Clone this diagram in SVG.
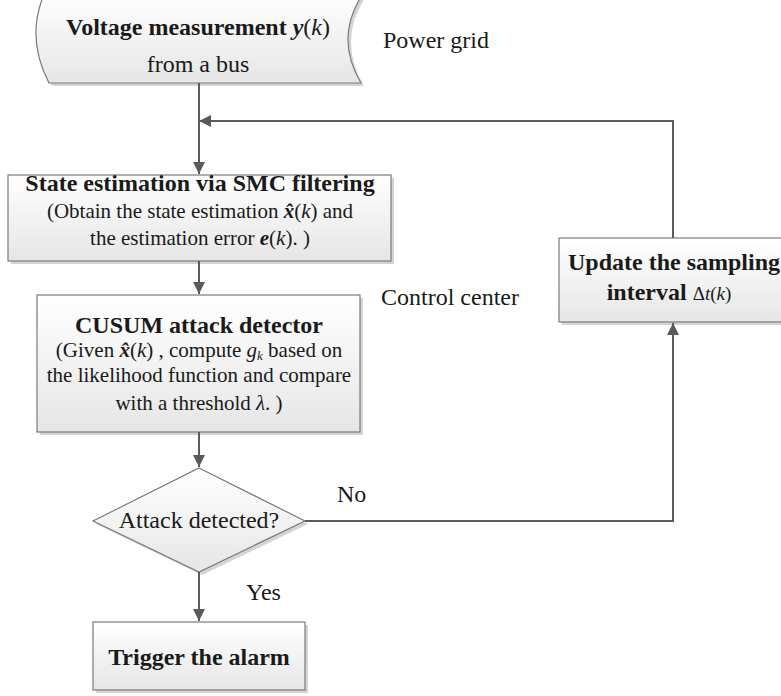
<svg xmlns="http://www.w3.org/2000/svg" width="781" height="696" viewBox="0 0 781 696" font-family="'Liberation Serif', serif">
<defs>
<linearGradient id="g" x1="0" y1="0" x2="0" y2="1">
<stop offset="0" stop-color="#ffffff"/>
<stop offset="1" stop-color="#e6e6e6"/>
</linearGradient>
<marker id="a" markerUnits="userSpaceOnUse" markerWidth="12" markerHeight="12" refX="12" refY="6" orient="auto">
<path d="M0,0 L12,6 L0,12 z" fill="#5a5a5a"/>
</marker>
</defs>
<rect width="781" height="696" fill="#ffffff"/>

<g id="voltage">
<path fill="#d4d4d4" d="M48,-5 L367,-5 Q336.5,39 364,86 L52,86 Q28,39 48,-5 Z"/>
<path fill="url(#g)" stroke="#7a7a7a" stroke-width="1.2" d="M45,-8 L364,-8 Q333.5,37 361,83 L49,83 Q25,37 45,-8 Z"/>
<text x="198" y="35" text-anchor="middle" font-family="'Liberation Serif', serif" font-size="24" font-weight="bold" fill="#1a1a1a">Voltage measurement  <tspan font-style="italic">y</tspan><tspan font-weight="normal">(</tspan><tspan font-style="italic" font-weight="normal">k</tspan><tspan font-weight="normal">)</tspan></text>
<text x="198" y="72" text-anchor="middle" font-family="'Liberation Serif', serif" font-size="24" fill="#1a1a1a">from a bus</text>
</g>

<g id="powergrid">
<text x="383" y="48" font-family="'Liberation Serif', serif" font-size="24" fill="#1a1a1a">Power grid</text>
</g>

<g id="smc">
<rect fill="#d4d4d4" x="11" y="178" width="383" height="86"/>
<rect fill="url(#g)" stroke="#7a7a7a" stroke-width="1.2" x="8" y="175" width="383" height="86"/>
<text x="200" y="191" text-anchor="middle" font-family="'Liberation Serif', serif" font-size="24" font-weight="bold" fill="#1a1a1a">State estimation via SMC filtering</text>
<text x="200" y="218" text-anchor="middle" font-family="'Liberation Serif', serif" font-size="21" fill="#1a1a1a">(Obtain the state estimation  <tspan font-style="italic" font-weight="bold">x̂</tspan>(<tspan font-style="italic">k</tspan>) and</text>
<text x="200" y="245" text-anchor="middle" font-family="'Liberation Serif', serif" font-size="21" fill="#1a1a1a">the estimation error  <tspan font-style="italic" font-weight="bold">e</tspan>(<tspan font-style="italic">k</tspan>). )</text>
</g>

<g id="controlcenter">
<text x="381" y="305" font-family="'Liberation Serif', serif" font-size="24" fill="#1a1a1a">Control center</text>
</g>

<g id="cusum">
<rect fill="#d4d4d4" x="40" y="298" width="323" height="137"/>
<rect fill="url(#g)" stroke="#7a7a7a" stroke-width="1.2" x="37" y="295" width="323" height="137"/>
<text x="199" y="333" text-anchor="middle" font-family="'Liberation Serif', serif" font-size="24" font-weight="bold" fill="#1a1a1a">CUSUM attack detector</text>
<text x="199" y="357" text-anchor="middle" font-family="'Liberation Serif', serif" font-size="21" fill="#1a1a1a">(Given  <tspan font-style="italic" font-weight="bold">x̂</tspan>(<tspan font-style="italic">k</tspan>) , compute  <tspan font-style="italic">g</tspan><tspan font-style="italic" font-size="13" dy="3">k</tspan><tspan dy="-3"> based on</tspan></text>
<text x="199" y="382" text-anchor="middle" font-family="'Liberation Serif', serif" font-size="21" fill="#1a1a1a">the likelihood function and compare</text>
<text x="199" y="410" text-anchor="middle" font-family="'Liberation Serif', serif" font-size="21" fill="#1a1a1a">with a threshold  <tspan font-style="italic">λ</tspan>. )</text>
</g>

<g id="update">
<rect fill="#d4d4d4" x="562" y="241" width="230" height="84"/>
<rect fill="url(#g)" stroke="#7a7a7a" stroke-width="1.2" x="559" y="238" width="230" height="84"/>
<text x="674" y="270" text-anchor="middle" font-family="'Liberation Serif', serif" font-size="24" font-weight="bold" fill="#1a1a1a">Update the sampling</text>
<text x="669" y="300" text-anchor="middle" font-family="'Liberation Serif', serif" font-size="24" font-weight="bold" fill="#1a1a1a">interval <tspan font-weight="normal" font-size="19">Δ<tspan font-style="italic">t</tspan>(<tspan font-style="italic">k</tspan>)</tspan></text>
</g>

<g id="decision">
<path fill="#d4d4d4" d="M202,471 L308,524 L202,575 L96,524 Z"/>
<path fill="url(#g)" stroke="#7a7a7a" stroke-width="1.2" d="M199,468 L305,521 L199,572 L93,521 Z"/>
<text x="199" y="528" text-anchor="middle" font-family="'Liberation Serif', serif" font-size="24" fill="#1a1a1a">Attack detected?</text>
</g>

<g id="alarm">
<rect fill="#d4d4d4" x="96" y="625" width="212" height="68"/>
<rect fill="url(#g)" stroke="#7a7a7a" stroke-width="1.2" x="93" y="622" width="212" height="68"/>
<text x="199" y="665" text-anchor="middle" font-family="'Liberation Serif', serif" font-size="24" font-weight="bold" fill="#1a1a1a">Trigger the alarm</text>
</g>

<g id="connectors" stroke="#5a5a5a" stroke-width="2" fill="none">
<path d="M199,83 L199,174" marker-end="url(#a)"/>
<path d="M673,238 L673,121 L199,121" marker-end="url(#a)"/>
<path d="M199,261 L199,294" marker-end="url(#a)"/>
<path d="M199,432 L199,467" marker-end="url(#a)"/>
<path d="M199,572 L199,621" marker-end="url(#a)"/>
<path d="M305,521 L673,521 L673,323" marker-end="url(#a)"/>
<text x="337" y="502" font-family="'Liberation Serif', serif" font-size="24" fill="#1a1a1a" stroke="none">No</text>
<text x="246" y="600" font-family="'Liberation Serif', serif" font-size="24" fill="#1a1a1a" stroke="none">Yes</text>
</g>
</svg>
